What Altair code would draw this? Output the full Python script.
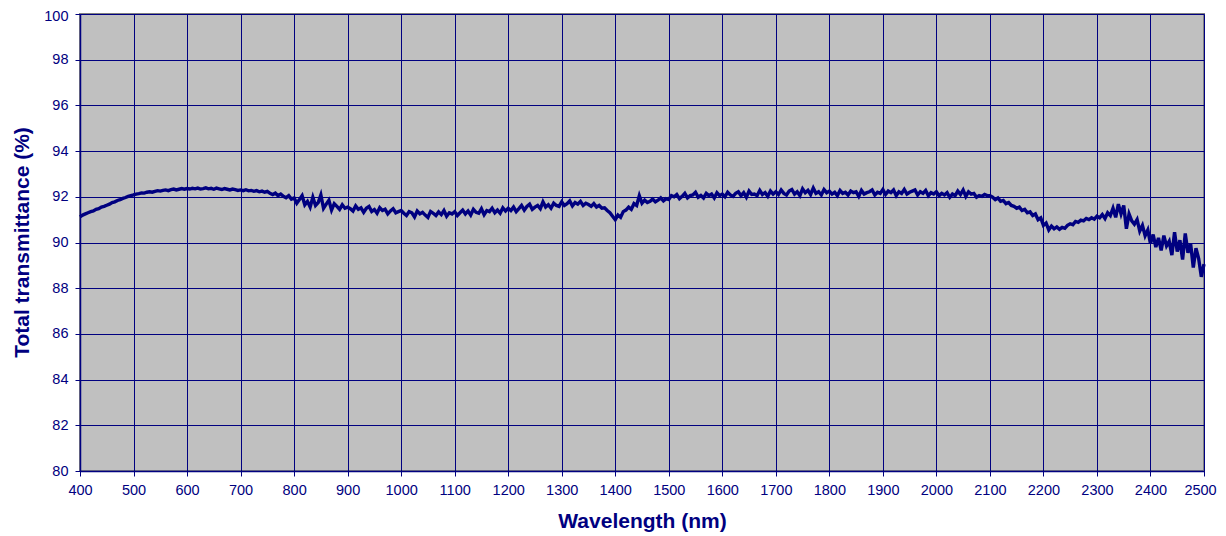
import altair as alt
import pandas as pd

wavelength = list(range(400, 2501, 5))

t_400 = [91.12, 91.20, 91.25, 91.30, 91.35, 91.38, 91.45, 91.48, 91.55, 91.58,
         91.63, 91.68, 91.75, 91.78, 91.84, 91.88, 91.93, 91.97, 92.02, 92.05]
t_500 = [92.08, 92.12, 92.14, 92.17, 92.16, 92.20, 92.22, 92.20, 92.24, 92.27,
         92.25, 92.28, 92.30, 92.27, 92.31, 92.34, 92.30, 92.33, 92.36, 92.33]
t_600 = [92.36, 92.34, 92.37, 92.35, 92.38, 92.34, 92.36, 92.39, 92.35, 92.37,
         92.33, 92.38, 92.35, 92.32, 92.36, 92.33, 92.30, 92.34, 92.31, 92.28]
t_700 = [92.30, 92.27, 92.31, 92.26, 92.28, 92.24, 92.27, 92.22, 92.25, 92.20,
         92.24, 92.15, 92.10, 92.16, 92.05, 92.12, 92.02, 91.96, 92.05, 91.90]
t_800 = [91.95, 91.72, 91.88, 92.05, 91.65, 91.80, 91.55, 91.98, 91.62, 91.75,
         92.08, 91.50, 91.68, 91.85, 91.42, 91.70, 91.58, 91.45, 91.65, 91.50]
t_900 = [91.55, 91.48, 91.38, 91.60, 91.45, 91.52, 91.32, 91.50, 91.58, 91.36,
         91.44, 91.28, 91.52, 91.40, 91.46, 91.25, 91.38, 91.48, 91.30, 91.35]
t_1000 = [91.40, 91.28, 91.18, 91.35, 91.30, 91.12, 91.38, 91.25, 91.32, 91.20,
          91.10, 91.36, 91.28, 91.18, 91.34, 91.22, 91.40, 91.15, 91.30, 91.25]
t_1100 = [91.35, 91.18, 91.30, 91.42, 91.25, 91.38, 91.20, 91.45, 91.32, 91.28,
          91.48, 91.22, 91.40, 91.35, 91.50, 91.30, 91.42, 91.28, 91.52, 91.38]
t_1200 = [91.50, 91.40, 91.55, 91.35, 91.48, 91.62, 91.42, 91.58, 91.68, 91.45,
          91.55, 91.62, 91.48, 91.78, 91.55, 91.65, 91.50, 91.72, 91.62, 91.58]
t_1300 = [91.78, 91.62, 91.70, 91.82, 91.60, 91.75, 91.68, 91.80, 91.62, 91.72,
          91.66, 91.58, 91.70, 91.55, 91.62, 91.50, 91.52, 91.40, 91.30, 91.15]
t_1400 = [91.00, 91.20, 91.10, 91.35, 91.42, 91.55, 91.45, 91.70, 91.62, 92.05,
          91.72, 91.85, 91.75, 91.80, 91.90, 91.78, 91.85, 91.95, 91.82, 91.92]
t_1500 = [91.88, 92.05, 92.00, 92.10, 91.92, 92.02, 92.15, 91.95, 92.05, 92.08,
          92.20, 91.98, 92.06, 91.95, 92.15, 92.05, 92.12, 91.95, 92.18, 92.05]
t_1600 = [92.12, 92.00, 92.20, 92.08, 92.02, 92.15, 92.22, 92.05, 92.18, 91.98,
          92.25, 92.10, 92.12, 92.05, 92.28, 92.10, 92.18, 92.02, 92.25, 92.12]
t_1700 = [92.22, 92.10, 92.30, 92.15, 92.08, 92.25, 92.32, 92.12, 92.22, 92.05,
          92.35, 92.18, 92.28, 92.10, 92.38, 92.15, 92.22, 92.08, 92.32, 92.18]
t_1800 = [92.25, 92.12, 92.20, 92.05, 92.28, 92.15, 92.20, 92.08, 92.25, 92.18,
          92.22, 92.02, 92.28, 92.12, 92.18, 92.22, 92.30, 92.08, 92.20, 92.15]
t_1900 = [92.32, 92.10, 92.25, 92.18, 92.30, 92.05, 92.22, 92.15, 92.32, 92.12,
          92.20, 92.25, 92.30, 92.08, 92.22, 92.15, 92.28, 92.05, 92.18, 92.12]
t_2000 = [92.22, 92.05, 92.15, 92.08, 92.18, 91.98, 92.12, 92.05, 92.25, 92.10,
          92.30, 92.02, 92.22, 92.12, 92.15, 91.98, 92.05, 92.02, 92.10, 92.05]
t_2100 = [92.05, 91.98, 91.88, 91.95, 91.80, 91.84, 91.70, 91.75, 91.62, 91.58,
          91.50, 91.55, 91.40, 91.45, 91.30, 91.34, 91.18, 91.25, 91.00, 91.08]
t_2200 = [90.75, 90.85, 90.55, 90.72, 90.60, 90.68, 90.58, 90.66, 90.62, 90.75,
          90.82, 90.78, 90.92, 90.88, 90.98, 90.95, 91.05, 91.00, 91.08, 91.02]
t_2300 = [91.15, 91.08, 91.22, 91.05, 91.30, 91.18, 91.50, 91.10, 91.68, 91.25,
          91.62, 90.60, 91.25, 90.95, 90.80, 91.00, 90.50, 90.75, 90.30, 90.55]
t_2400 = [89.95, 90.35, 89.80, 90.20, 89.65, 90.30, 89.85, 90.05, 89.45, 90.45,
          89.60, 90.10, 89.25, 90.40, 89.55, 89.95, 88.90, 89.75, 89.30, 88.50,
          89.05]

transmittance = (t_400 + t_500 + t_600 + t_700 + t_800 + t_900 + t_1000 + t_1100
                 + t_1200 + t_1300 + t_1400 + t_1500 + t_1600 + t_1700 + t_1800
                 + t_1900 + t_2000 + t_2100 + t_2200 + t_2300 + t_2400)

x_ticks = list(range(400, 2501, 100))
y_ticks = list(range(80, 101, 2))

df = pd.DataFrame({"wl": wavelength, "t": transmittance})

NAVY = "#000080"
FONT = "Liberation Sans"

chart = alt.Chart(df).mark_line(color=NAVY, strokeWidth=3.4).encode(
    x=alt.X("wl:Q", scale=alt.Scale(domain=[400, 2500], nice=False, zero=False),
            axis=alt.Axis(values=x_ticks, title="Wavelength (nm)", format="d",
                          titleX=562, titleY=56, titleBaseline="alphabetic",
                          labelPadding=7, labelFlush=False, labelOverlap=False,
                          labelOffset={"condition": {"test": "datum.value == 2500", "value": -4},
                                       "value": 0})),
    y=alt.Y("t:Q", scale=alt.Scale(domain=[80, 100], nice=False, zero=False),
            axis=alt.Axis(values=y_ticks, title="Total transmittance (%)",
                          titleX=-52, titleY=228, titleBaseline="alphabetic",
                          labelPadding=7, labelFlush=False,
                          labelOffset={"condition": {"test": "datum.value == 100", "value": 2},
                                       "value": 0})),
).properties(
    width=1124, height=457,
    autosize=alt.AutoSizeParams(type="none"),
    padding={"left": 72, "top": 6, "right": 14, "bottom": 63},
).configure_view(
    fill="#C0C0C0", stroke="#808080", strokeWidth=2
).configure_axis(
    grid=True, gridColor=NAVY, gridWidth=1, gridOpacity=1,
    domainColor=NAVY, domainWidth=1.5,
    tickColor=NAVY, tickSize=5, tickWidth=1,
    labelColor=NAVY, labelFont=FONT, labelFontSize=14.5,
    titleColor=NAVY, titleFont=FONT, titleFontSize=21, titleFontWeight="bold",
)

chart.save("out.html", embed_options={"renderer": "svg", "actions": False})
